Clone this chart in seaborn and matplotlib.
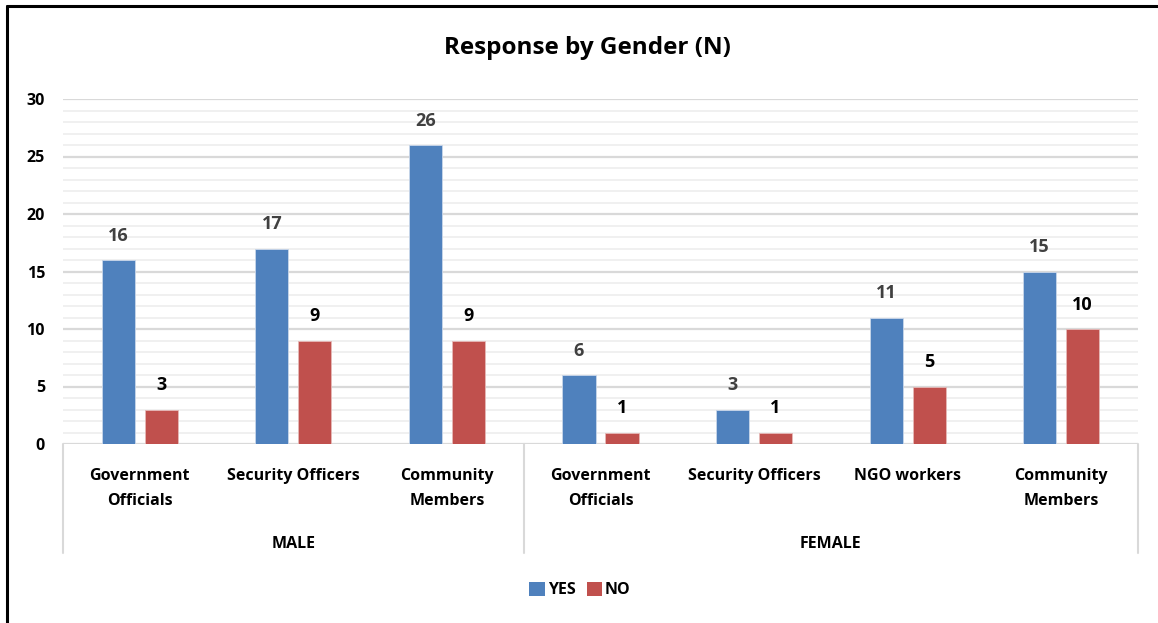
import matplotlib
matplotlib.use("Agg")
import matplotlib.pyplot as plt
from matplotlib.lines import Line2D
from matplotlib.patches import Patch
import seaborn as sns
import pandas as pd

# Survey responses by gender and respondent type
groups = ["MALE", "MALE", "MALE", "FEMALE", "FEMALE", "FEMALE", "FEMALE"]
categories = ["Government\nOfficials", "Security Officers", "Community\nMembers",
              "Government\nOfficials", "Security Officers", "NGO workers",
              "Community\nMembers"]
yes_values = [16, 17, 26, 6, 3, 11, 15]
no_values = [3, 9, 9, 1, 1, 5, 10]
series = ["YES", "NO"]
colors = {"YES": "#4F81BD", "NO": "#C0504D"}
label_colors = {"YES": "#404040", "NO": "#000000"}

keys = [f"{g}|{c}" for g, c in zip(groups, categories)]
df = pd.DataFrame({
    "key": keys * 2,
    "response": ["YES"] * len(keys) + ["NO"] * len(keys),
    "count": yes_values + no_values,
})

sns.set_theme(style="white")
plt.rcParams["font.family"] = ["Open Sans", "DejaVu Sans"]
plt.rcParams["font.weight"] = "bold"
plt.rcParams["text.color"] = "#000000"
plt.rcParams["ytick.color"] = "#000000"
plt.rcParams["ytick.labelcolor"] = "#000000"

W, H = 1158, 623
fig = plt.figure(figsize=(W / 100, H / 100), dpi=100)
ax = fig.add_axes([63 / W, (H - 444) / H, (1138 - 63) / W, 345 / H])

sns.barplot(data=df, x="key", y="count", hue="response", order=keys,
            hue_order=series, palette=colors, width=0.56, gap=0.23,
            saturation=1, linewidth=0.6, legend=False, ax=ax)

for cont, s in zip(ax.containers, series):
    for bar in cont:
        bar.set_edgecolor("#c9d7ea" if s == "YES" else "#e6b9b8")
    ax.bar_label(cont, padding=11, fontsize=13, fontweight="bold",
                 color=label_colors[s])

ax.set_ylim(0, 30)
ax.set_xlim(-0.5, len(keys) - 0.5)
ax.set_yticks(range(0, 31, 5))
ax.set_yticks(range(0, 31, 1), minor=True)
ax.grid(axis="y", which="major", color="#d9d9d9", linewidth=1.6)
ax.grid(axis="y", which="minor", color="#f0f0f0", linewidth=1.4)
ax.set_axisbelow(True)
for sp in ax.spines.values():
    sp.set_visible(False)
ax.tick_params(axis="y", which="both", length=0, pad=13, labelsize=11.5,
               labelcolor="#000000")
for t in ax.get_yticklabels():
    t.set_fontweight("bold")
ax.set_xticks([])
ax.set_xlabel("")
ax.set_ylabel("")

# Two-level category axis
trans = ax.get_xaxis_transform()
for i, c in enumerate(categories):
    ax.text(i, -0.07, c, transform=trans, ha="center", va="top",
            fontsize=11.5, fontweight="bold", color="#000000",
            linespacing=1.75)
group_names = ["MALE", "FEMALE"]
bounds = [-0.5]
for gname in group_names:
    idx = [i for i, g in enumerate(groups) if g == gname]
    ax.text((idx[0] + idx[-1]) / 2, -0.29, gname, transform=trans,
            ha="center", va="center", fontsize=11.5, fontweight="bold",
            color="#000000")
    bounds.append(idx[-1] + 0.5)
for b in bounds:
    ax.add_line(Line2D([b, b], [0, -0.317], transform=trans, color="#d9d9d9",
                       linewidth=1.5, clip_on=False))

fig.text(587 / W, 1 - 48 / H, "Response by Gender (N)", ha="center",
         va="center", fontsize=17.5, fontweight="bold", color="#000000")

handles = [Patch(facecolor=colors[s], edgecolor="none") for s in series]
leg = fig.legend(handles, series, loc="center", bbox_to_anchor=(580 / W, 1 - 590 / H),
                 ncol=2, frameon=False, handlelength=0.95, handleheight=0.95,
                 handletextpad=0.2, columnspacing=0.7, labelcolor="#000000",
                 prop={"weight": "bold", "size": 11.5})

# Frame lines along the top and left edges
fig.add_artist(Line2D([7.5 / W, 7.5 / W], [0, 1 - 6 / H], transform=fig.transFigure,
                      color="#000000", linewidth=2.2))
fig.add_artist(Line2D([7.5 / W, 1], [1 - 6 / H, 1 - 6 / H], transform=fig.transFigure,
                      color="#000000", linewidth=2.2))

fig.savefig("out.png", dpi=100)
